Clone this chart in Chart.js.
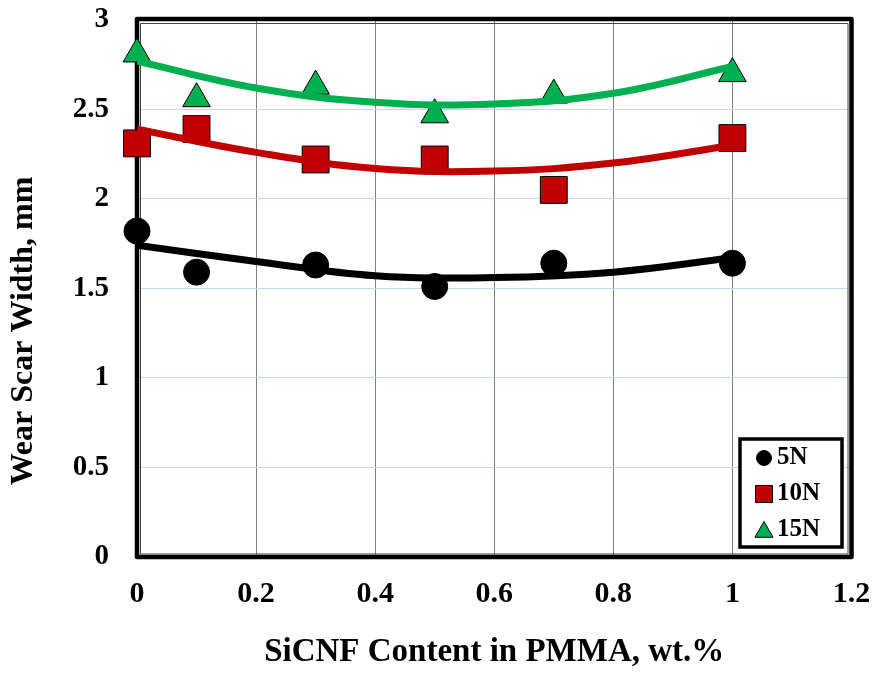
<!DOCTYPE html>
<html lang="en">

<head>
  <meta charset="UTF-8" />
  <title>Wear Scar Width</title>
  <script src="https://cdn.jsdelivr.net/npm/chart.js@4"></script>
  <style>
    body { margin: 0; background: #fff; }
    #caixa { width: 875px; height: 673px; }
  </style>
</head>

<body>
  <div id="caixa"><canvas id="canvas_grafico" width="875" height="673"></canvas></div>

  <script>
    // measured points (SiCNF content, wt.%)
    var teor = [0, 0.1, 0.3, 0.5, 0.7, 1.0];
    var largura_5N = [1.82, 1.59, 1.63, 1.51, 1.64, 1.64];
    var largura_10N = [2.31, 2.39, 2.22, 2.22, 2.05, 2.34];
    var largura_15N = [2.81, 2.56, 2.63, 2.47, 2.58, 2.70];

    // polynomial trend lines
    var teor_tendencia = [0, 0.2, 0.4, 0.6, 0.8, 1.0];
    var tendencia_5N = [1.74, 1.65, 1.57, 1.56, 1.59, 1.67];
    var tendencia_10N = [2.39, 2.26, 2.17, 2.155, 2.20, 2.30];
    var tendencia_15N = [2.77, 2.62, 2.54, 2.53, 2.59, 2.74];

    var nomes_series = ["5N", "10N", "15N"];
    var ticks_x = [0, 0.2, 0.4, 0.6, 0.8, 1, 1.2];
    var ticks_y = [0, 0.5, 1, 1.5, 2, 2.5, 3];

    var fonte = "'Liberation Serif', 'Times New Roman', serif";

    function pontos(xs, ys) {
      return xs.map(function (x, i) { return { x: x, y: ys[i] }; });
    }

    // thick double frame round the plot area
    var moldura = {
      id: "moldura",
      beforeDatasetsDraw: function (chart) {
        var a = chart.chartArea;
        var ctx = chart.ctx;
        ctx.save();
        ctx.lineJoin = "round";
        ctx.strokeStyle = "#000";
        ctx.lineWidth = 4.5;
        ctx.strokeRect(a.left, a.top - 1, a.right - a.left, a.bottom - a.top + 1.5);
        ctx.lineWidth = 1;
        ctx.strokeStyle = "#444";
        ctx.strokeRect(a.left + 3.5, a.top + 3.5, a.right - a.left - 7, a.bottom - a.top - 6);
        ctx.restore();
      }
    };

    // boxed legend inside the plot, bottom right
    var legenda = {
      id: "legenda",
      afterDraw: function (chart) {
        var ctx = chart.ctx;
        var bx = 740, by = 439, bw = 102, bh = 108;
        ctx.save();
        ctx.fillStyle = "#fff";
        ctx.fillRect(bx, by, bw, bh);
        ctx.lineWidth = 3.5;
        ctx.strokeStyle = "#000";
        ctx.strokeRect(bx, by, bw, bh);

        var linhas = [458, 494, 530];
        var raios = { circle: 7.5, rect: 12, triangle: 10.5 };
        var k = 0;
        chart.data.datasets.forEach(function (ds) {
          if (!ds.naLegenda) return;
          var y = linhas[k];
          ctx.fillStyle = ds.backgroundColor;
          ctx.strokeStyle = ds.borderColor;
          ctx.lineWidth = ds.pointBorderWidth;
          Chart.helpers.drawPoint(ctx, {
            pointStyle: ds.pointStyle,
            radius: raios[ds.pointStyle],
            rotation: 0,
            borderWidth: ds.pointBorderWidth
          }, 764, ds.pointStyle === "triangle" ? y + 2 : y);
          ctx.fillStyle = "#000";
          ctx.font = "bold 25px " + fonte;
          ctx.textAlign = "left";
          ctx.textBaseline = "middle";
          ctx.fillText(ds.label, 777, y);
          k++;
        });
        ctx.restore();
      }
    };

    // y title, placed as in the original
    var titulo_y = {
      id: "titulo_y",
      afterDraw: function (chart) {
        var ctx = chart.ctx;
        ctx.save();
        ctx.translate(24, 331);
        ctx.rotate(-Math.PI / 2);
        ctx.fillStyle = "#000";
        ctx.font = "bold 32px " + fonte;
        ctx.textAlign = "center";
        ctx.textBaseline = "middle";
        ctx.fillText("Wear Scar Width, mm", 0, 0);
        ctx.restore();
      }
    };

    function criar_grafico() {
      var alvo = document.getElementById("canvas_grafico");
      new Chart(alvo, {
        type: "scatter",
        data: {
          datasets: [
            {
              label: "trend 5N",
              type: "line",
              data: pontos(teor_tendencia, tendencia_5N),
              borderColor: "#000000",
              borderWidth: 7,
              pointRadius: 0,
              tension: 0.4,
              fill: false,
              order: 0
            },
            {
              label: "trend 10N",
              type: "line",
              data: pontos(teor_tendencia, tendencia_10N),
              borderColor: "#c00000",
              borderWidth: 7,
              pointRadius: 0,
              tension: 0.4,
              fill: false,
              order: 0
            },
            {
              label: "trend 15N",
              type: "line",
              data: pontos(teor_tendencia, tendencia_15N),
              borderColor: "#00b050",
              borderWidth: 7,
              pointRadius: 0,
              tension: 0.4,
              fill: false,
              order: 0
            },
            {
              label: nomes_series[0],
              data: pontos(teor, largura_5N),
              pointStyle: "circle",
              pointRadius: 13,
              backgroundColor: "#000000",
              borderColor: "#000000",
              pointBorderWidth: 1,
              naLegenda: true,
              clip: false,
              order: 1
            },
            {
              label: nomes_series[1],
              data: pontos(teor, largura_10N),
              pointStyle: "rect",
              pointRadius: 19,
              backgroundColor: "#c00000",
              borderColor: "#000000",
              pointBorderWidth: 1,
              naLegenda: true,
              clip: false,
              order: 1
            },
            {
              label: nomes_series[2],
              data: pontos(teor, largura_15N),
              pointStyle: "triangle",
              pointRadius: 16,
              backgroundColor: "#00b050",
              borderColor: "#000000",
              pointBorderWidth: 1,
              naLegenda: true,
              clip: false,
              order: 1
            }
          ]
        },
        options: {
          responsive: false,
          animation: false,
          layout: {
            padding: { top: 19.5, right: 23.5, left: 0, bottom: 0 }
          },
          plugins: {
            legend: { display: false },
            tooltip: { enabled: false }
          },
          scales: {
            x: {
              type: "linear",
              min: 0,
              max: 1.2,
              afterBuildTicks: function (s) {
                s.ticks = ticks_x.map(function (v) { return { value: v }; });
              },
              afterFit: function (s) {
                s.height = 116.5;
                s.paddingLeft = 0;
                s.paddingRight = 0;
              },
              border: { display: false },
              grid: { color: "#808080", lineWidth: 1, drawTicks: false },
              ticks: {
                padding: 20,
                color: "#000",
                font: { family: fonte, size: 30, weight: "bold" },
                maxRotation: 0,
                callback: function (v) { return String(v); }
              },
              title: {
                display: true,
                text: "SiCNF Content in PMMA, wt.%",
                color: "#000",
                font: { family: fonte, size: 33, weight: "bold" },
                padding: { top: 0, bottom: 1 }
              }
            },
            y: {
              type: "linear",
              min: 0,
              max: 3,
              afterBuildTicks: function (s) {
                s.ticks = ticks_y.map(function (v) { return { value: v }; });
              },
              afterFit: function (s) {
                s.width = 137;
                s.paddingTop = 0;
                s.paddingBottom = 0;
              },
              border: { display: false },
              grid: { color: "#c6d9f1", lineWidth: 1, drawTicks: false },
              ticks: {
                padding: 28,
                color: "#000",
                font: { family: fonte, size: 29, weight: "bold" },
                callback: function (v) { return String(v); }
              }
            }
          }
        },
        plugins: [moldura, legenda, titulo_y]
      });
    }

    criar_grafico();
  </script>
</body>

</html>
